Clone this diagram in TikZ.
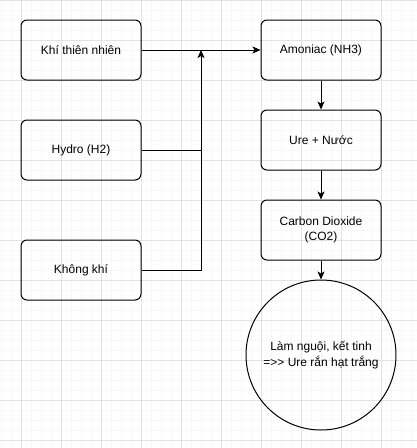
\documentclass[tikz,border=0pt]{standalone}
\usepackage{fontspec}
\setmainfont{Liberation Sans}
\usetikzlibrary{arrows.meta}
\definecolor{gridmajor}{HTML}{E2E2E2}
\definecolor{gridminor}{HTML}{F7F7F7}
\tikzset{
    >={Stealth[length=8pt,width=7pt,inset=2pt]},
    flow/.style={
        x=1pt,y=-1pt,
        box/.append style={align=center,draw,line width=1pt,rounded corners=6pt,minimum width=120pt,minimum height=60pt,inner sep=0pt,font=\fontsize{12}{15.6}\selectfont},
        ball/.append style={align=center,draw,line width=1pt,circle,minimum size=150pt,inner sep=0pt,font=\fontsize{12}{15.6}\selectfont},
        minor/.append style={draw=gridminor,line width=1pt},
        major/.append style={draw=gridmajor,line width=1pt},
        link/.append style={draw,line width=1pt}
    }
}

\begin{document}
\begin{tikzpicture}[flow]
    \useasboundingbox (0, 0) rectangle (417, 448);
    \fill[white] (0, 0) rectangle (417, 448);
    \foreach \x in {1,11,...,411} \draw[minor] (\x, 0) -- (\x, 448);
    \foreach \y in {0,10,...,440} \draw[minor] (0, \y) -- (417, \y);
    \foreach \x in {21,61,...,381} \draw[major] (\x, 0) -- (\x, 448);
    \foreach \y in {0,40,...,440} \draw[major] (0, \y) -- (417, \y);

    \node[box] (gas) at (81, 50) {Khí thiên nhiên};
    \node[box] (hydro) at (81, 150) {Hydro (H2)};
    \node[box] (air) at (81, 270) {Không khí};

    \node[box] (nh3) at (321, 50) {Amoniac (NH3)};
    \node[box] (urea) at (321, 140) {Ure + Nước};
    \node[box] (co2) at (321, 230) {Carbon Dioxide\\(CO2)};
    \node[ball] (cool) at (321, 355) {Làm nguội, kết tinh\\=>{}> Ure rắn hạt trắng};

    \coordinate (join) at (201, 50);
    \draw[link,->] (gas) -- (nh3);
    \draw[link] (hydro.east) -- (hydro.east -| join);
    \draw[link,->] (air.east) -| (join);

    \draw[link,->] (nh3) -- (urea);
    \draw[link,->] (urea) -- (co2);
    \draw[link,->] (co2) -- (cool);
\end{tikzpicture}
\end{document}
